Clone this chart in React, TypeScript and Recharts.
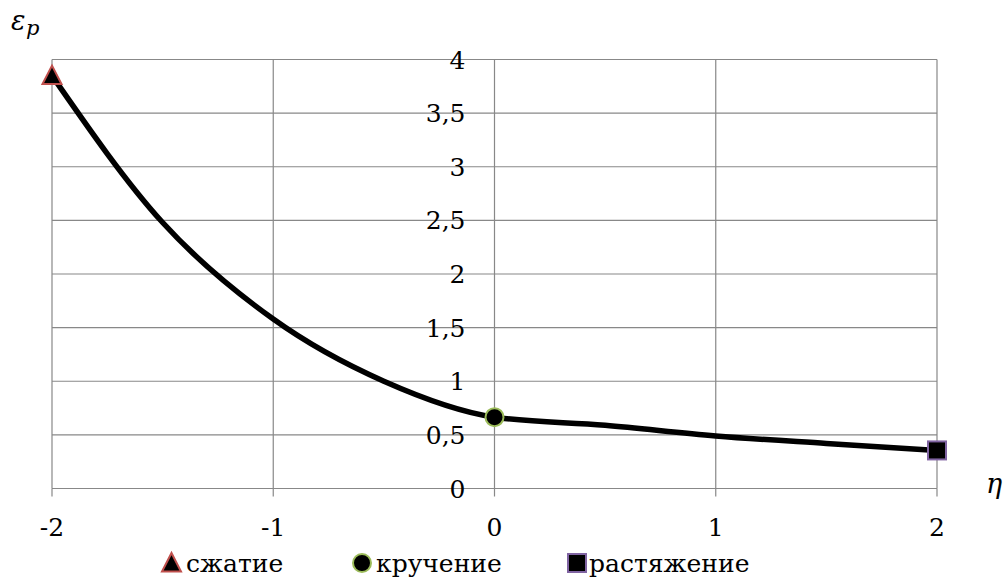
import { ComposedChart, Line, Scatter, XAxis, YAxis, CartesianGrid } from "recharts";

// η values and the fitted curve for ε_p
const etaPoints = [-2, -1.5, -1, -0.5, 0, 0.5, 1, 1.5, 2];
const epsPoints = [3.85, 2.48, 1.58, 1.0, 0.665, 0.59, 0.49, 0.42, 0.355];

// marked states
const compression = [{ eta: -2, eps: 3.85 }];
const torsion = [{ eta: 0, eps: 0.665 }];
const tension = [{ eta: 2, eps: 0.355 }];

const xTicks = [-2, -1, 0, 1, 2];
const yTicks = [0, 0.5, 1, 1.5, 2, 2.5, 3, 3.5, 4];

const legendNames = ["сжатие", "кручение", "растяжение"];

const curve = etaPoints.map((eta, i) => ({ eta, eps: epsPoints[i] }));

const W = 1003;
const H = 580;
const plotLeft = 52;
const plotRight = 937;
const plotTop = 59.5;
const plotBottom = 488.5;
const zeroX = (plotLeft + plotRight) / 2;

const FONT = "DejaVu Serif";
const FS = 25;
const GRID = "#888888";
const RED = "#c0504d";
const GREEN = "#9bbb59";
const PURPLE = "#8064a2";

const fmt = (v: number) => String(v).replace(".", ",");

function YTick({ y, payload }: any) {
  return (
    <text x={zeroX - 29} y={y} dy="0.36em" textAnchor="end" fontFamily={FONT} fontSize={FS} fill="#000">
      {fmt(payload.value)}
    </text>
  );
}

function Triangle({ cx, cy, stroke }: { cx: number; cy: number; stroke: string }) {
  return (
    <polygon
      points={`${cx},${cy - 10} ${cx - 9.5},${cy + 8.5} ${cx + 9.5},${cy + 8.5}`}
      fill="#000"
      stroke={stroke}
      strokeWidth={2}
    />
  );
}

function Dot({ cx, cy, stroke }: { cx: number; cy: number; stroke: string }) {
  return <circle cx={cx} cy={cy} r={9} fill="#000" stroke={stroke} strokeWidth={2} />;
}

function Square({ cx, cy, stroke }: { cx: number; cy: number; stroke: string }) {
  return <rect x={cx - 9} y={cy - 9} width={18} height={18} fill="#000" stroke={stroke} strokeWidth={2} />;
}

export default function App() {
  return (
    <div style={{ position: "absolute", left: 0, top: 0, width: W, height: H, fontFamily: FONT }}>
      <ComposedChart
        width={W}
        height={H}
        data={curve}
        margin={{ top: plotTop, left: plotLeft - 20, right: W - plotRight, bottom: H - plotBottom - 60 }}
      >
        <CartesianGrid stroke={GRID} strokeWidth={1.2} verticalValues={xTicks} horizontalValues={yTicks} />
        <XAxis
          type="number"
          dataKey="eta"
          domain={[-2, 2]}
          ticks={xTicks}
          axisLine={false}
          tickLine={{ stroke: GRID, strokeWidth: 1.2 }}
          tickSize={8}
          tickMargin={22}
          height={60}
          tick={{ fontFamily: FONT, fontSize: FS, fill: "#000" }}
          interval={0}
        />
        <YAxis
          type="number"
          dataKey="eps"
          domain={[0, 4]}
          ticks={yTicks}
          width={20}
          axisLine={false}
          tickLine={false}
          tick={<YTick />}
          interval={0}
        />
        <Line
          type="monotone"
          dataKey="eps"
          stroke="#000"
          strokeWidth={5.5}
          dot={false}
          isAnimationActive={false}
        />
        <Scatter
          data={compression}
          dataKey="eps"
          isAnimationActive={false}
          shape={(p: any) => <Triangle cx={p.cx} cy={p.cy} stroke={RED} />}
        />
        <Scatter
          data={torsion}
          dataKey="eps"
          isAnimationActive={false}
          shape={(p: any) => <Dot cx={p.cx} cy={p.cy} stroke={GREEN} />}
        />
        <Scatter
          data={tension}
          dataKey="eps"
          isAnimationActive={false}
          shape={(p: any) => <Square cx={p.cx} cy={p.cy} stroke={PURPLE} />}
        />
      </ComposedChart>
      <svg width={W} height={H} style={{ position: "absolute", left: 0, top: 0, pointerEvents: "none" }}>
        <text x={11} y={30} fontFamily={FONT} fontStyle="italic" fontSize={27} fill="#000">
          ε
        </text>
        <text x={26} y={35} fontFamily={FONT} fontStyle="italic" fontSize={21} fill="#000">
          p
        </text>
        <text x={986} y={493} fontFamily={FONT} fontStyle="italic" fontSize={27} fill="#000">
          η
        </text>
        <Triangle cx={171.5} cy={563} stroke={RED} />
        <text x={186} y={572} fontFamily={FONT} fontSize={FS} fill="#000">
          {legendNames[0]}
        </text>
        <Dot cx={362} cy={563} stroke={GREEN} />
        <text x={376} y={572} fontFamily={FONT} fontSize={FS} fill="#000">
          {legendNames[1]}
        </text>
        <Square cx={577} cy={563} stroke={PURPLE} />
        <text x={589} y={572} fontFamily={FONT} fontSize={FS} fill="#000">
          {legendNames[2]}
        </text>
      </svg>
    </div>
  );
}
